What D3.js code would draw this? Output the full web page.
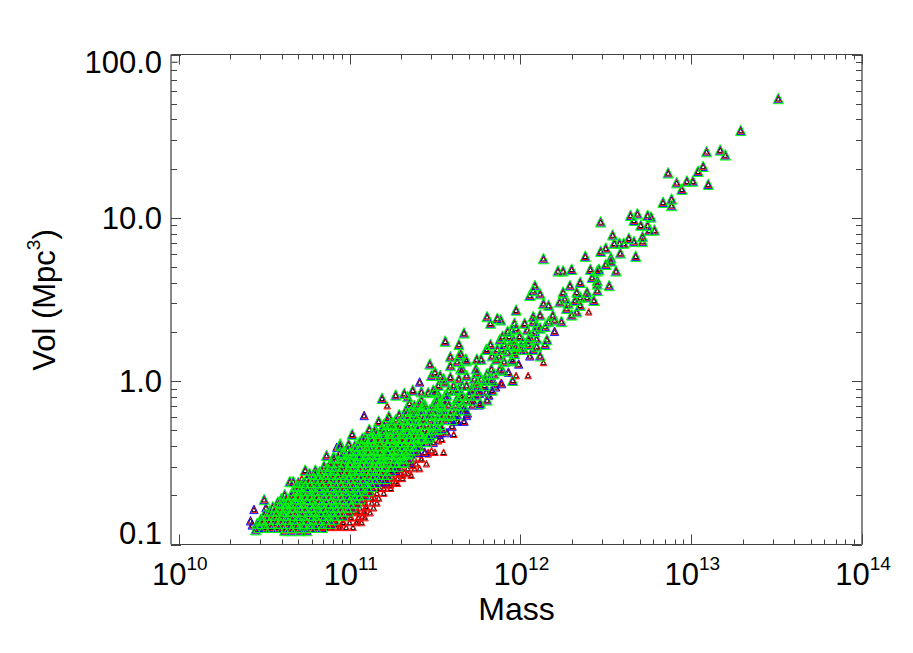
<!DOCTYPE html>
<html><head><meta charset="utf-8">
<script src="https://cdnjs.cloudflare.com/ajax/libs/d3/7.8.5/d3.min.js"></script>
<style>html,body{margin:0;background:#fff}svg{display:block}text{font-family:"Liberation Sans",Arial,sans-serif;fill:#000}</style>
</head><body><div id="c"></div>
<script>
// log10(mass), log10(vol)
const massFull = [
13.51,13.29,13.17,13.20,13.09,13.07,13.04,12.865,13.10,12.915,
12.975,13.01,12.945,12.885,12.835,12.885,12.645,12.685,12.745,12.665,
12.765,12.705,12.745,12.755,12.785,12.47,12.54,12.635,12.715,12.715,
12.665,12.55,12.58,12.605,12.585,12.675,12.50,12.47,12.53,12.38,
12.135,12.22,12.25,12.30,12.41,12.45,12.46,12.50,12.53,12.56,
12.42,12.45,12.35,12.29,12.45,12.45,12.52,12.085,12.075,12.055,
12.115,12.25,12.33,12.39,12.35,12.39,12.43,12.23,12.135,12.165,
12.26,12.28,12.27,12.32,12.35,12.33,12.30,11.975,12.115,12.075,
12.19,11.885,12.025,11.965,12.075,12.165,12.20,12.24,12.145,12.115,
12.085,12.155,12.145,11.925,11.975,12.055,11.995,11.935,11.895,12.045,
11.965,12.095,11.905,12.005,11.805,11.865,11.825,12.095,11.67,11.56,
11.64,11.59,11.64,11.685,11.745,11.59,11.63,11.47,11.50,11.48,
11.53,11.59,11.56,11.32,11.37,11.42,11.46,11.50,12.115,11.955,
11.805,11.825,11.865,11.935,11.975,12.015,12.075,12.095,11.835,11.875,
11.925,11.965,12.005,11.905,11.955,11.895,11.845,11.805,11.745,11.66,
11.685,11.745,11.795,11.835,11.835,11.685,11.64,11.57,11.66,11.805,
11.765,11.53,11.41,11.35,11.65,11.19,11.27,11.34,11.23,11.17,
11.24,11.115,11.015,11.145,11.20,11.29,11.075,10.945,10.995,11.045,
11.125,11.34,11.38,11.36,11.43,11.47,11.51,11.63,11.57,11.53,
11.54,11.51,11.43,11.39,11.34,11.30,11.35,11.41,11.47,11.24,
11.18,11.115,11.055,11.005,10.965,11.155,11.22,11.28,11.34,11.39,
11.43,11.20,11.26,11.31,11.135,11.055,10.985,10.945,10.945,10.865,
10.905,10.865,10.825,10.74,10.765,10.67,10.65,10.69,10.66,10.70,
10.67,10.50,10.58,10.61,10.62,10.49,10.45];
const volFull = [
1.725,1.53,1.41,1.38,1.40,1.31,1.28,1.27,1.20,1.21,
1.22,1.22,1.17,1.11,1.09,1.07,1.01,1.02,1.01,.98,
1.00,.95,.95,.92,.92,.97,.89,.87,.88,.85,
.85,.84,.84,.84,.78,.76,.81,.79,.75,.76,
.745,.67,.67,.68,.68,.67,.68,.71,.73,.67,
.63,.61,.60,.58,.59,.55,.58,.58,.55,.52,
.53,.54,.54,.54,.51,.51,.49,.48,.47,.46,
.50,.47,.44,.49,.46,.42,.40,.43,.40,.39,
.40,.37,.35,.35,.36,.36,.37,.36,.33,.32,
.30,.25,.22,.30,.32,.27,.27,.27,.27,.22,
.22,.21,.22,.21,.39,.38,.35,.335,.29,.24,
.22,.145,.15,.12,.13,.09,.115,.10,.05,.03,
.03,.02,-.01,-.08,-.06,-.07,-.075,-.07,.15,0,
.19,.22,.19,.21,.21,.24,.19,.255,.15,.15,
.175,.165,.19,.115,.12,.06,.04,.04,.05,.07,
.03,-.01,0,0,-.06,-.03,-.05,-.09,-.09,-.12,
-.14,-.14,-.14,-.14,.165,-.11,-.09,-.10,-.22,-.25,
-.265,-.30,-.33,-.31,-.31,-.28,-.355,-.40,-.39,-.40,
-.355,-.235,-.155,-.19,-.155,-.205,-.13,-.11,-.215,-.205,
-.295,-.28,-.235,-.28,-.28,-.355,-.355,-.34,-.34,-.355,
-.40,-.42,-.46,-.50,-.44,-.48,-.44,-.42,-.44,-.40,
-.355,-.52,-.50,-.50,-.54,-.54,-.56,-.39,-.44,-.46,
-.47,-.54,-.56,-.55,-.57,-.62,-.62,-.645,-.70,-.71,
-.755,-.73,-.745,-.755,-.785,-.86,-.915];
// dense core: estimated masses along rows of constant log10(vol)
const denseVols = [-.92,-.90,-.875,-.85,-.825,-.80,-.775,-.75,-.725,-.70,-.675,-.65,-.625,-.60,-.575,-.55,-.525,-.50,-.475,-.45,-.425,-.40,-.375,-.35,-.325,-.30,-.27,-.24,-.21,-.18,-.15,-.12,-.09,-.06,-.03,.01,.07,.13,.19,.25,.31];
const denseMasses = [
[10.62,10.66,10.71,10.75],
[10.47,10.50,10.54,10.58,10.61,10.65,10.69,10.73,10.77,10.80,10.84],
[10.46,10.49,10.53,10.57,10.60,10.64,10.68,10.72,10.75,10.79,10.82,10.86,10.89],
[10.48,10.52,10.56,10.60,10.63,10.67,10.70,10.74,10.78,10.81,10.85,10.88,10.91],
[10.50,10.53,10.57,10.61,10.65,10.68,10.72,10.76,10.79,10.83,10.86,10.90,10.93,10.96],
[10.53,10.56,10.60,10.64,10.67,10.71,10.74,10.78,10.82,10.85,10.89,10.92,10.95,10.99],
[10.55,10.59,10.63,10.66,10.70,10.73,10.77,10.80,10.84,10.88,10.91,10.94,10.98,11.01],
[10.60,10.64,10.68,10.71,10.75,10.78,10.82,10.86,10.89,10.93,10.96,11.00,11.04],
[10.60,10.63,10.67,10.70,10.74,10.77,10.81,10.85,10.88,10.92,10.95,10.99,11.03,11.06],
[10.62,10.66,10.70,10.73,10.77,10.80,10.84,10.87,10.91,10.94,10.98,11.02,11.05,11.09],
[10.67,10.71,10.75,10.79,10.82,10.86,10.89,10.93,10.96,11.00,11.04,11.07,11.11],
[10.70,10.74,10.77,10.81,10.84,10.88,10.92,10.95,10.99,11.02,11.06,11.10,11.13],
[10.70,10.73,10.76,10.80,10.83,10.87,10.91,10.94,10.98,11.01,11.05,11.08,11.12,11.15],
[10.75,10.79,10.82,10.86,10.90,10.93,10.97,11.00,11.04,11.07,11.11,11.14,11.18,11.21],
[10.80,10.83,10.87,10.90,10.94,10.98,11.01,11.05,11.08,11.12,11.15,11.19,11.22],
[10.80,10.84,10.88,10.91,10.95,10.99,11.02,11.06,11.09,11.13,11.16,11.20,11.24],
[10.85,10.89,10.92,10.96,11.00,11.03,11.07,11.10,11.14,11.17,11.21,11.25,11.28],
[10.89,10.93,10.97,11.01,11.04,11.08,11.11,11.15,11.18,11.22,11.26,11.29,11.32],
[10.91,10.95,10.98,11.02,11.06,11.09,11.13,11.16,11.20,11.24,11.27,11.31,11.34],
[10.96,11.00,11.04,11.07,11.11,11.15,11.18,11.22,11.25,11.29,11.32,11.36],
[10.99,11.03,11.06,11.10,11.14,11.17,11.21,11.24,11.28,11.31,11.35,11.38],
[11.03,11.07,11.11,11.14,11.18,11.22,11.25,11.29,11.32,11.36,11.40],
[11.06,11.10,11.13,11.17,11.21,11.24,11.28,11.31,11.35,11.39,11.42,11.45],
[11.09,11.13,11.17,11.20,11.24,11.27,11.31,11.35,11.38,11.42,11.46],
[11.13,11.16,11.20,11.24,11.27,11.31,11.34,11.38,11.41,11.45,11.48],
[11.15,11.19,11.23,11.26,11.30,11.33,11.37,11.40,11.44,11.48,11.51],
[11.20,11.25,11.29,11.33,11.36,11.41,11.45,11.49,11.53],
[11.22,11.27,11.31,11.36,11.39,11.43,11.47,11.52,11.56,11.60],
[11.29,11.33,11.38,11.42,11.46,11.50,11.55,11.59,11.63],
[11.33,11.38,11.42,11.47,11.51,11.55,11.60,11.64,11.68],
[11.40,11.44,11.49,11.53,11.58,11.62,11.66],
[11.42,11.51,11.55,11.64,11.68,11.72],
[11.52,11.56,11.65,11.70,11.74],
[11.49,11.58,11.62,11.71,11.76],
[11.52,11.61,11.66,11.75,11.79],
[11.55,11.64,11.73,11.77,11.82],
[11.65,11.74,11.83,11.88],
[11.68,11.77,11.86,11.95],
[11.80,11.89,11.98,12.02],
[11.88,11.96,12.05],
[11.95,12.04]];
const massBlue = [11.41,11.085,12.20,12.055,10.44,10.42,10.43,10.925,11.685,11.63,
11.60,11.76,11.815,11.855,11.715,11.67,11.57,11.52,11.46,11.41,
11.36,11.30,11.24,11.165,11.105,11.045,10.985,10.925,10.865,10.51,
11.17,11.21,11.27,11.35,11.40,11.44,11.49,11.53,11.57,11.63,
11.67,11.69,11.72,11.76,11.80,11.85,11.89,11.93,11.99];
const volBlue = [-.01,-.215,.30,.15,-.79,-.86,-.885,-.41,-.215,-.245,
-.28,-.08,-.09,-.04,-.05,-.18,-.12,-.33,-.36,-.40,
-.43,-.47,-.53,-.60,-.63,-.67,-.72,-.76,-.81,-.78,
-.62,-.62,-.55,-.50,-.44,-.44,-.38,-.32,-.32,-.25,
-.25,-.20,-.15,-.15,-.07,-.02,-.02,.05,.10];
const massRed = [11.885,11.975,12.045,12.135,12.40,11.22,10.72,10.52,11.61,11.55,
11.50,11.46,11.52,11.54,11.45,11.41,11.36,11.32,11.27,11.335,
10.915,10.955,10.975,11.025,11.045,11.075,10.865,10.945,10.895,10.835,
11.095,10.915,10.965,11.005,11.045,11.085,11.145,11.125,11.175,11.21,
11.24,11.27,11.31,11.37,11.42,11.48,11.25,11.085,
10.86,10.90,10.94,10.98,11.02,10.88,10.92,10.96,11.00,11.04,
11.07,10.93,10.97,11.01,11.05,11.09,10.97,11.01,11.05,11.09,
11.12,11.02,11.06,11.10,11.14,11.05,11.09,11.13,11.16,11.09,
11.13,11.17,11.12,11.16,11.20,11.16,11.20,11.24,11.20,11.24,
11.28,11.24,11.28,11.31,11.26,11.30,11.34,11.30,11.34,11.38,
11.35,11.39,11.38,11.42,11.41,11.46];
const volRed = [-.015,.03,.03,.11,.42,-.155,-.60,-.82,-.33,-.44,
-.44,-.44,-.37,-.36,-.51,-.54,-.58,-.56,-.56,-.51,
-.835,-.785,-.835,-.80,-.86,-.83,-.865,-.89,-.895,-.895,
-.77,-.88,-.87,-.84,-.80,-.73,-.72,-.68,-.66,-.64,
-.64,-.62,-.58,-.52,-.48,-.43,-.59,-.80,
-.90,-.90,-.90,-.90,-.90,-.87,-.87,-.87,-.87,-.87,
-.87,-.84,-.84,-.84,-.84,-.84,-.81,-.81,-.81,-.81,
-.81,-.78,-.78,-.78,-.78,-.75,-.75,-.75,-.75,-.72,
-.72,-.72,-.69,-.69,-.69,-.66,-.66,-.66,-.63,-.63,
-.63,-.60,-.60,-.60,-.57,-.57,-.57,-.54,-.54,-.54,
-.51,-.51,-.48,-.48,-.45,-.45];
const yTickLabels = ["0.1","1.0","10.0","100.0"];
const yTickValues = [0.1,1,10,100];
const xTickValues = [1e10,1e11,1e12,1e13,1e14];
const xTickExps = ["10","11","12","13","14"];

const W=913,H=653;
const svg=d3.select("#c").append("svg").attr("width",W).attr("height",H);
const x=d3.scaleLog().domain([9e9,1e14]).range([171,862]);
const y=d3.scaleLog().domain([0.1,100]).range([544.5,54.5]);
const pts=(m,v)=>d3.zip(m,v).map(([a,b])=>[x(10**a),y(10**b)]);
const dense=denseVols.flatMap((v,i)=>denseMasses[i].map(m=>[x(10**m),y(10**v)]));
const full=[...pts(massFull,volFull),...dense], blue=pts(massBlue,volBlue), red=pts(massRed,volRed);
const tri=(w,t,b)=>([px,py])=>d3.line()([[px,py-t],[px+w,py+b],[px-w,py+b],[px,py-t]])+"Z";
const layer=(data,color,w,t,b,op)=>svg.append("g").attr("fill","none").attr("stroke",color).attr("stroke-width",1).attr("stroke-opacity",op)
  .selectAll("path").data(data).join("path").attr("d",tri(w,t,b));
const all=[...red,...blue,...full];
layer(all,"#000",2.2,2.8,1.5,1);
layer(all,"#f00",3.3,4.2,2.5,1);
layer([...blue,...full],"#00f",4.2,5.2,3.4,0.9);
layer(full,"#0f0",5.2,6.3,4.3,1);

// axes
const ax=svg.append("g").attr("stroke","#333").attr("fill","none");
const line=(a,b,c,d,col,sw)=>ax.append("line").attr("x1",a).attr("y1",b).attr("x2",c).attr("y2",d).attr("stroke",col||"#444").attr("stroke-width",sw||1);
const L=171,R=862,T=54.5,B=544.5;
line(L,T,R,T,"#444");line(L,B,R,B,"#444");line(L,T,L,B,"#888",2);line(R,T,R,B,"#888",2);
const decades=[10,11,12,13];
const xMinor=[];decades.forEach(d=>{for(let k=2;k<=9;k++)xMinor.push(k*10**d)});
xMinor.forEach(v=>{const p=Math.round(x(v))+.5;line(p,B,p,B-5);line(p,T,p,T+5)});
xTickValues.forEach(v=>{const p=Math.round(x(v))+.5;line(p,B,p,B-10);line(p,T,p,T+10)});
const yMinor=[];[-1,0,1].forEach(d=>{for(let k=2;k<=9;k++)yMinor.push(k*10**d)});
yMinor.forEach(v=>{const p=Math.round(y(v))+.5;line(L,p,L+6,p);line(R,p,R-6,p)});
yTickValues.forEach(v=>{const p=Math.round(y(v))+.5;line(L,p,L+10,p);line(R,p,R-10,p)});
line(L,y(90),L+9,y(90),"#888");

// labels
const yBase=[544,392,229,73];
svg.selectAll(".yl").data(yTickLabels).join("text").attr("text-anchor","end").attr("font-size",31)
  .attr("x",162).attr("y",(d,i)=>yBase[i]).text(d=>d);
xTickValues.forEach((v,i)=>{
  const t=svg.append("text").attr("x",x(v)+1).attr("y",585).attr("text-anchor","middle").attr("font-size",31);
  t.append("tspan").text("10");
  t.append("tspan").attr("font-size",19).attr("dy",-15).text(xTickExps[i]);
});
svg.append("text").attr("x",516.5).attr("y",620).attr("text-anchor","middle").attr("font-size",32).text("Mass");
const yl=svg.append("text").attr("transform","translate(55,300) rotate(-90)").attr("text-anchor","middle").attr("font-size",31);
yl.append("tspan").text("Vol (Mpc");
yl.append("tspan").attr("font-size",19).attr("dy",-15).text("3");
yl.append("tspan").attr("dy",15).text(")");
</script></body></html>
